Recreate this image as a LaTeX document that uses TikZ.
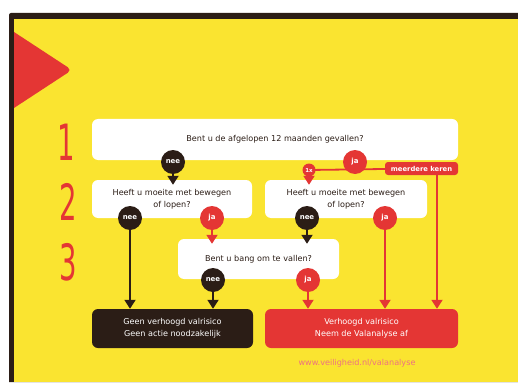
\documentclass[tikz,border=0pt]{standalone}
\usepackage{fontspec}
\setmainfont{DejaVu Sans}
\usetikzlibrary{arrows.meta,positioning,calc}
\definecolor{vyellow}{RGB}{250,228,48}
\definecolor{vred}{RGB}{228,54,52}
\definecolor{vdark}{RGB}{43,29,22}
\definecolor{vpink}{RGB}{238,112,130}
\pgfdeclarelayer{back}
\pgfdeclarelayer{lines}
\pgfsetlayers{back,lines,main}

\begin{document}
\begin{tikzpicture}[x=1pt, y=-1pt,
  >={Triangle[width=11pt,length=9pt]},
  every node/.style={font=\fontsize{8.1}{12}\selectfont, text=vdark},
  question/.style={rectangle, rounded corners=6pt, fill=white, align=center,
                   inner sep=0pt},
  result/.style={question, text=white},
  answer/.style={circle, inner sep=0pt, minimum size=24pt, text=white,
                 font=\fontsize{7}{7}\selectfont\bfseries},
  num/.style={text=vred, font=\fontsize{50}{50}\selectfont},
  flow/.style={->, line width=1.8pt},
  into/.style={flow, shorten >=-5pt},
]
  \useasboundingbox (0,0) rectangle (518,382);
  \begin{pgfonlayer}{back}
  % Frame and background
  \fill[white] (0,0) rectangle (518,382);
  \fill[vdark] (9,382) -- (9,15) arc[start angle=180, end angle=90, radius=2pt]
    -- (518,13) -- (518,382) -- cycle;
  \fill[vyellow] (14,19) rectangle (518,382);
  \fill[vred] (14,32) [rounded corners=5pt] -- (72,70) [sharp corners] -- (14,108) -- cycle;
  % Step numbers
  \node[num] (n1) at (66,142) {\scalebox{0.55}[1]{1}};
  \node[num] (n2) at (68,202) {\scalebox{0.55}[1]{2}};
  \node[num] (n3) at (68,262) {\scalebox{0.55}[1]{3}};
  % Questions
  \node[question, minimum width=366pt, minimum height=41pt] (q1) at (275,139.5)
    {Bent u de afgelopen 12 maanden gevallen?};
  \node[question, minimum width=160pt, minimum height=38pt] (q2a) at (172,199)
    {Heeft u moeite met bewegen\\of lopen?};
  \node[question, minimum width=162pt, minimum height=38pt] (q2b) at (346,199)
    {Heeft u moeite met bewegen\\of lopen?};
  \node[question, minimum width=161pt, minimum height=40pt] (q3) at (258.5,259)
    {Bent u bang om te vallen?};
  % Results
  \node[result, fill=vdark, minimum width=161pt, minimum height=39pt] (rlow) at (172.5,328.5)
    {Geen verhoogd valrisico\\Geen actie noodzakelijk};
  \node[result, fill=vred, minimum width=193pt, minimum height=39pt] (rhigh) at (361.5,328.5)
    {Verhoogd valrisico\\Neem de Valanalyse af};
  \node[text=vpink] (url) at (357,363) {www.veiligheid.nl/valanalyse};
  \end{pgfonlayer}
  % Answers
  \node[answer, fill=vdark] (nee1) at (173,162) {nee};
  \node[answer, fill=vred] (ja1) at (355,162) {ja};
  \node[answer, fill=vred, minimum size=13pt, font=\fontsize{5.5}{5.5}\selectfont\bfseries]
    (onex) at (309,170) {1x};
  \node[result, fill=vred, rounded corners=3pt, minimum width=73pt, minimum height=13pt,
        font=\fontsize{6.8}{6.8}\selectfont\bfseries] (meer) at (421.5,168.5) {meerdere keren};
  \node[answer, fill=vdark] (nee2a) at (130,218) {nee};
  \node[answer, fill=vred] (ja2a) at (212,218) {ja};
  \node[answer, fill=vdark] (nee2b) at (307,218) {nee};
  \node[answer, fill=vred] (ja2b) at (385,218) {ja};
  \node[answer, fill=vdark] (nee3) at (213,280) {nee};
  \node[answer, fill=vred] (ja3) at (308,280) {ja};
  \coordinate (keren) at (437,175);
  % Connectors
  \begin{pgfonlayer}{lines}
  \draw[into, vdark] (nee1) -- (nee1 |- q2a.north);
  \draw[line width=1.8pt, vred] (onex.center) -- (meer.center);
  \draw[into, vred] (onex) -- (onex |- q2b.north);
  \draw[flow, vred] (keren) -- (keren |- rhigh.north);
  \draw[flow, vdark] (nee2a) -- (nee2a |- rlow.north);
  \draw[into, vred] (ja2a) -- (ja2a |- q3.north);
  \draw[into, vdark] (nee2b) -- (nee2b |- q3.north);
  \draw[flow, vred] (ja2b) -- (ja2b |- rhigh.north);
  \draw[flow, vdark] (nee3) -- (nee3 |- rlow.north);
  \draw[flow, vred] (ja3) -- (ja3 |- rhigh.north);
  \end{pgfonlayer}
\end{tikzpicture}
\end{document}
